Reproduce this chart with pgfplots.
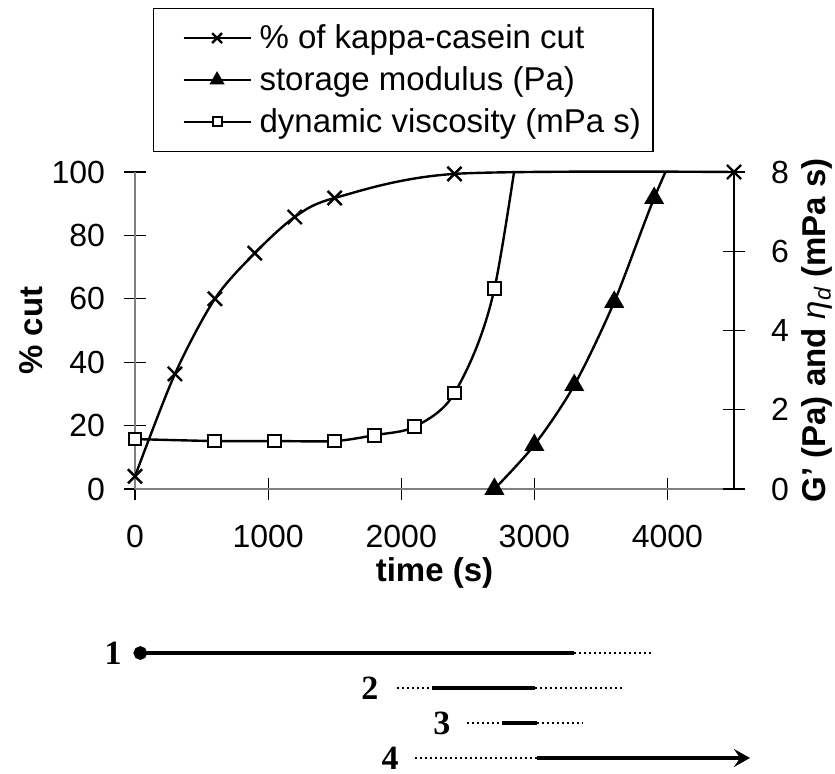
\documentclass[border=0pt]{standalone}
\usepackage{fontspec}
\setmainfont{Liberation Sans}
\newfontfamily\serifb{Liberation Serif}
\usepackage{pgfplots}
\pgfplotsset{compat=1.18}
\usetikzlibrary{arrows.meta}

\newcommand\tickfont{\fontsize{16}{18}\selectfont}
\newcommand\labfont{\fontsize{16.5}{19}\selectfont\bfseries}

\pgfplotsset{
  panel/.style={
    scale only axis, width=299.5pt, height=158.5pt,
    xmin=0, xmax=4500,
    tick align=center, major tick length=11pt,
    tick style={black, line width=0.6pt},
    ticklabel style={font=\tickfont},
    /pgf/number format/assume math mode=true,
    /pgf/number format/1000 sep={},
  },
  series/.style={black, line width=1.2pt, smooth},
}

\begin{document}
\begin{tikzpicture}
\path[use as bounding box] (-67.5pt,-142.5pt) rectangle (350pt,244.5pt);

% left axis: percentage of kappa-casein cut
\begin{axis}[panel,
    ymin=0, ymax=100,
    axis x line=bottom, axis y line=left,
    axis line style={-, draw=gray, line width=0.6pt},
    xtick={0,1000,2000,3000,4000},
    ytick={0,20,40,60,80,100},
    xticklabel style={yshift=-9pt},
    yticklabel style={xshift=-6pt},
    clip=false,
    xlabel={time (s)},
    ylabel={\% cut},
    every axis x label/.style={at={(axis description cs:0.5,0)}, yshift=-42pt, anchor=center, font=\labfont},
    every axis y label/.style={at={(axis description cs:0,0.5)}, xshift=-52pt, anchor=center, rotate=90, font=\labfont},
  ]
  \addplot[series, mark=x, mark size=5pt] coordinates {
    (0,4) (300,36.3) (600,60) (900,74.4) (1200,85.8) (1500,91.8) (2400,99.4) (4500,100)
  };
\end{axis}

% right axis: storage modulus and dynamic viscosity
\begin{axis}[panel,
    ymin=0, ymax=8,
    axis y line=right, axis x line=none,
    axis line style={-, draw=black, line width=0.8pt},
    ytick={0,2,4,6,8},
    yticklabel style={xshift=9.5pt},
    ylabel={G' (Pa) and \textnormal{\itshape η\textsubscript{d}} (mPa s)},
    every axis y label/.style={at={(axis description cs:1,0.5)}, xshift=41.5pt, anchor=center, rotate=90, font=\labfont},
    legend style={at={(axis description cs:0.03,1)}, anchor=south west, yshift=10pt,
      draw=black, line width=0.6pt, font=\fontsize{16.5}{19}\selectfont,
      cells={anchor=west}, row sep=3.5pt, inner xsep=4pt, inner ysep=6pt},
    legend image code/.code={
      \path[draw=none, fill=none] (0pt,0pt) -- (47pt,0pt);
      \draw[#1] (11pt,0pt) -- (44.5pt,0pt);
      \draw[#1, every mark/.append style={scale=0.7}] plot coordinates {(27.75pt,0pt)};
    },
  ]
  \addlegendimage{black, line width=1.2pt, mark=x, mark size=5pt}
  \addlegendentry{\% of kappa-casein cut}
  \addplot[series, mark=triangle*, mark size=4.6pt, mark indices={1,2,3,4,5}] coordinates {
    (2700,0) (3000,1.11) (3300,2.62) (3600,4.72) (3900,7.34) (4200,9.6)
  };
  \addlegendentry{storage modulus (Pa)}
  \addplot[series, mark=square*, mark size=3.2pt, mark options={fill=white, line width=1pt},
           mark indices={1,2,3,4,5,6,7,8}] coordinates {
    (0,1.26) (600,1.21) (1050,1.21) (1500,1.21) (1800,1.36) (2100,1.57) (2400,2.42) (2700,5.05) (3000,11.5)
  };
  \addlegendentry{dynamic viscosity (mPa s)}
\end{axis}

% stages along the time scale
\begin{axis}[scale only axis, width=299.5pt, height=70pt,
    at={(0,-143.25pt)},
    xmin=0, xmax=4500, ymin=0.5, ymax=4.5, y dir=reverse,
    axis lines=none, clip=false,
    solidseg/.style={black, line width=1.6pt},
    dotseg/.style={black, line width=1.4pt, dash pattern=on 1pt off 1.5pt},
  ]
  \addplot[solidseg, mark=*, mark size=2.6pt, mark indices={1}] coordinates {(40,1) (3300,1)};
  \addplot[dotseg] coordinates {(3300,1) (3900,1)};
  \addplot[dotseg] coordinates {(1970,2) (2230,2)};
  \addplot[solidseg] coordinates {(2230,2) (3005,2)};
  \addplot[dotseg] coordinates {(3005,2) (3680,2)};
  \addplot[dotseg] coordinates {(2495,3) (2757,3)};
  \addplot[solidseg] coordinates {(2757,3) (3020,3)};
  \addplot[dotseg] coordinates {(3020,3) (3366,3)};
  \addplot[dotseg] coordinates {(2104,4) (3020,4)};
  \addplot[solidseg, -{Stealth[length=8pt, width=9pt, inset=3pt]}] coordinates {(3020,4) (4620,4)};
  \begin{scope}[every node/.style={font=\serifb\bfseries\fontsize{17}{17}\selectfont}]
    \node at (axis cs:-165,1) {1};
    \node at (axis cs:1765,2) {2};
    \node at (axis cs:2306,3) {3};
    \node at (axis cs:1916,4) {4};
  \end{scope}
\end{axis}
\end{tikzpicture}
\end{document}
